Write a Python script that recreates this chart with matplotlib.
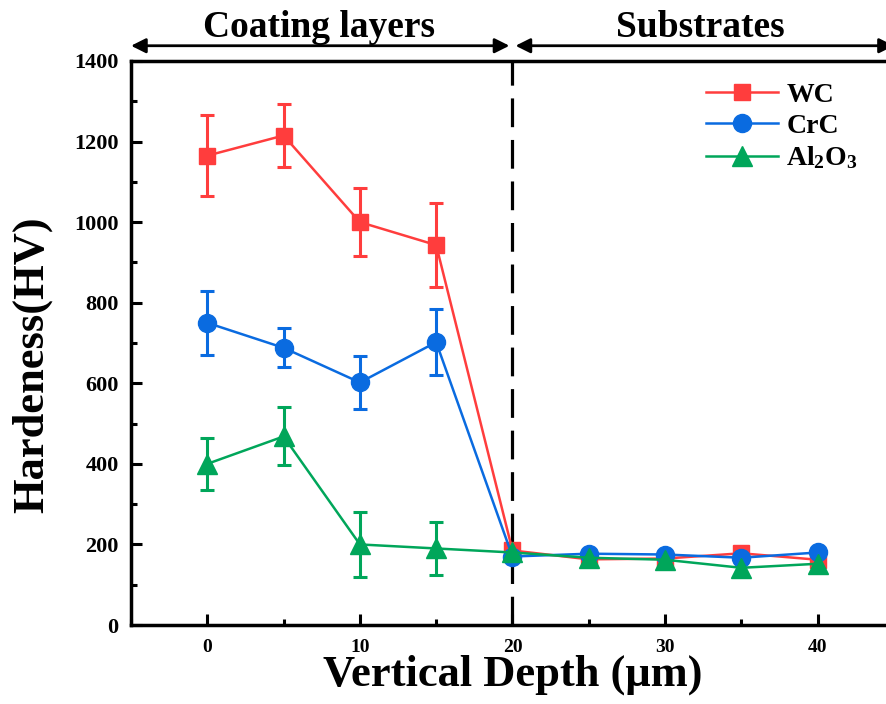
import matplotlib
matplotlib.use("Agg")
import matplotlib.pyplot as plt
from matplotlib.ticker import MultipleLocator
from matplotlib.lines import Line2D

plt.rcParams['font.family'] = ['Liberation Serif', 'DejaVu Serif']
plt.rcParams['font.weight'] = 'bold'
plt.rcParams['mathtext.fontset'] = 'custom'
plt.rcParams['mathtext.rm'] = 'Liberation Serif:bold'
plt.rcParams['mathtext.bf'] = 'Liberation Serif:bold'
plt.rcParams['mathtext.it'] = 'Liberation Serif:bold'

depth = [0, 5, 10, 15, 20, 25, 30, 35, 40]

wc = [1165, 1215, 1000, 943, 185, 163, 165, 178, 162]
wc_err = [100, 78, 85, 105, 15, 15, 12, 15, 15]

crc = [750, 688, 602, 702, 170, 177, 175, 167, 180]
crc_err = [80, 48, 65, 82, 12, 12, 12, 12, 12]

al2o3 = [400, 468, 200, 190, 180, 167, 162, 142, 152]
al2o3_err = [65, 72, 80, 65, 12, 12, 12, 12, 12]

series = [
    ("WC", wc, wc_err, "#FF3D3D", "s", 12),
    ("CrC", crc, crc_err, "#0A6BE0", "o", 13),
    ("Al$_2$O$_3$", al2o3, al2o3_err, "#00A65A", "^", 14),
]

fig = plt.figure(figsize=(8.86, 7.04), dpi=100)
ax = fig.add_axes([0.1479, 0.1122, 0.861, 0.8012])

handles = []
for label, vals, errs, color, marker, ms in series:
    ax.errorbar(depth, vals, yerr=errs, color=color, marker=marker,
                markersize=ms, linewidth=1.8, elinewidth=2.2, capsize=5,
                capthick=2.2)
    handles.append(Line2D([], [], color=color, marker=marker, markersize=ms,
                          linewidth=1.8, label=label))

ax.axvline(20, color="black", linestyle=(0, (9, 4)), linewidth=2.3)

ax.set_xlim(-5, 45)
ax.set_ylim(0, 1400)
ax.xaxis.set_major_locator(MultipleLocator(10))
ax.xaxis.set_minor_locator(MultipleLocator(5))
ax.yaxis.set_major_locator(MultipleLocator(200))
ax.yaxis.set_minor_locator(MultipleLocator(100))
ax.tick_params(which="both", direction="in", width=2.2, top=False, right=False)
ax.tick_params(which="major", length=8)
ax.tick_params(which="minor", length=4.5)
ax.tick_params(axis="y", labelsize=16, pad=9)
ax.tick_params(axis="x", labelsize=14, pad=10)
for lbl in ax.get_xticklabels() + ax.get_yticklabels():
    lbl.set_fontweight("bold")
for sp in ax.spines.values():
    sp.set_linewidth(2.5)

ax.set_xlabel("Vertical Depth (\u03bcm)", fontsize=32, fontweight="bold",
              labelpad=-1)
ax.set_ylabel("Hardeness(HV)", fontsize=32, fontweight="bold")
ax.yaxis.set_label_coords(-0.103, 0.461)

leg = ax.legend(handles=handles, loc="upper right",
                bbox_to_anchor=(0.985, 1.006), frameon=False, fontsize=20,
                handlelength=2.6, labelspacing=0.2, handletextpad=0.3)
for t in leg.get_texts():
    t.set_fontweight("bold")

# Region annotations above the axes
y_arrow = 1.027
ax.annotate("", xy=(-5, y_arrow), xytext=(19.8, y_arrow),
            xycoords=("data", "axes fraction"),
            arrowprops=dict(arrowstyle="<|-|>", color="black", lw=2,
                            mutation_scale=22, shrinkA=0, shrinkB=0),
            annotation_clip=False)
ax.annotate("", xy=(20.2, y_arrow), xytext=(45, y_arrow),
            xycoords=("data", "axes fraction"),
            arrowprops=dict(arrowstyle="<|-|>", color="black", lw=2,
                            mutation_scale=22, shrinkA=0, shrinkB=0),
            annotation_clip=False)
ax.text(7.3, 1.042, "Coating layers", transform=ax.get_xaxis_transform(),
        ha="center", va="baseline", fontsize=27, fontweight="bold")
ax.text(32.3, 1.042, "Substrates", transform=ax.get_xaxis_transform(),
        ha="center", va="baseline", fontsize=27, fontweight="bold")

fig.savefig("out.png", dpi=100)
